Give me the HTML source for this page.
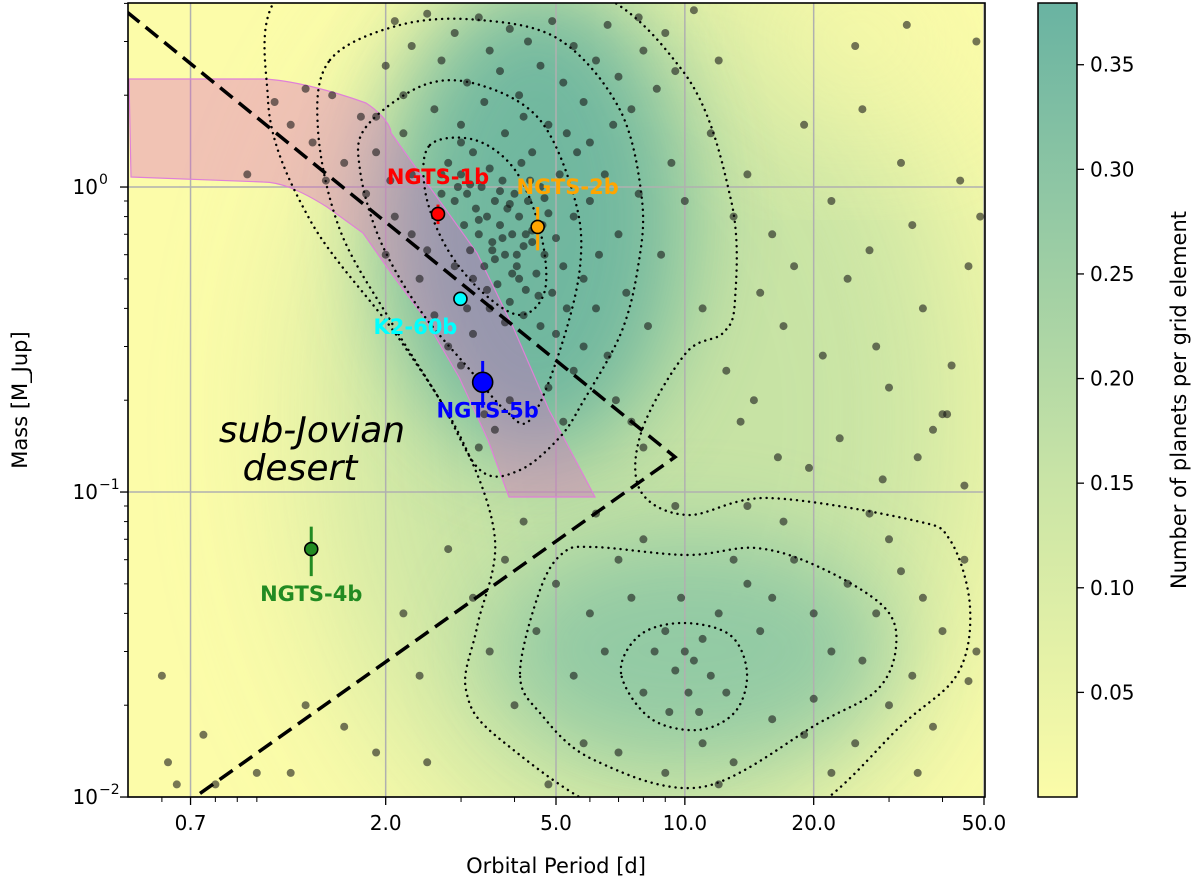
<!DOCTYPE html>
<html><head><meta charset="utf-8"><style>
html,body{margin:0;padding:0;background:#fff;}
svg{display:block;font-family:"DejaVu Sans","Liberation Sans",sans-serif;}
</style></head><body>
<svg id="chart" width="1200" height="888" viewBox="0 0 1200 888" xmlns="http://www.w3.org/2000/svg">
<defs>
<clipPath id="plotclip"><rect x="128" y="3" width="857" height="794"/></clipPath>
<filter id="blur40" x="-50%" y="-50%" width="200%" height="200%"><feGaussianBlur stdDeviation="45"/></filter>
<filter id="blur70" x="-50%" y="-50%" width="200%" height="200%"><feGaussianBlur stdDeviation="80"/></filter>
<linearGradient id="cbgrad" x1="0" y1="1" x2="0" y2="0">
<stop offset="0" stop-color="#fbfca8"/><stop offset="0.4" stop-color="#c9e4a6"/><stop offset="1" stop-color="#69b3a2"/>
</linearGradient>
</defs>
<g id="bg" clip-path="url(#plotclip)">
<rect x="128" y="3" width="857" height="794" fill="#fcfca9"/>
<ellipse cx="650" cy="420" rx="330" ry="460" fill="#c2e1a4" opacity="0.9" filter="url(#blur70)"/>
<ellipse cx="860" cy="40" rx="140" ry="90" fill="#fafaa8" opacity="0.8" filter="url(#blur70)"/>
<ellipse cx="535" cy="220" rx="150" ry="240" fill="#62b09f" opacity="0.85" filter="url(#blur40)"/>
<ellipse cx="690" cy="650" rx="200" ry="115" fill="#86c4a4" opacity="0.8" filter="url(#blur40)"/>
</g>
<g id="grid"></g>
<g id="band" clip-path="url(#plotclip)"></g>
<g id="contours" clip-path="url(#plotclip)"></g>
<g id="dots" clip-path="url(#plotclip)"></g>
<g id="dashed" clip-path="url(#plotclip)"></g>
<g id="planets"></g>
<rect x="128" y="3" width="857" height="794" fill="none" stroke="#000" stroke-width="1.6"/>
<g id="axes"></g>
<text x="312" y="442" font-size="36" font-style="italic" text-anchor="middle">sub-Jovian</text>
<text x="300" y="480" font-size="36" font-style="italic" text-anchor="middle">desert</text>
<text x="556" y="873" font-size="21" text-anchor="middle">Orbital Period [d]</text>
<text transform="translate(27,400) rotate(-90)" font-size="21" text-anchor="middle">Mass [M_Jup]</text>
<g id="colorbar"></g>
<text transform="translate(1186,400) rotate(-90)" font-size="21" text-anchor="middle">Number of planets per grid element</text>
</svg>
<script>
const NS="http://www.w3.org/2000/svg";
// ---- data ----
const xTickValues=[0.7,2.0,5.0,10.0,20.0,50.0];
const xTickLabels=["0.7","2.0","5.0","10.0","20.0","50.0"];
const yTickValues=[1,0.1,0.01];
const yTickExp=["0","\u22121","\u22122"];
const cbTickValues=[0.05,0.10,0.15,0.20,0.25,0.30,0.35];
const cbTickLabels=["0.05","0.10","0.15","0.20","0.25","0.30","0.35"];
const planetNames=["NGTS-1b","NGTS-2b","K2-60b","NGTS-5b","NGTS-4b"];
const planetPeriods=[2.65,4.53,2.99,3.37,1.34];
const planetMasses=[0.816,0.74,0.43,0.229,0.065];
const planetMassErrors=[0.06,0.12,0.02,0.04,0.012];
const planetColors=["#ff0000","#ffa500","#00ffff","#0000ff","#228b22"];
const starPeriods=[
2.1,2.3,2.5,2.7,2.9,3.1,3.3,3.5,3.7,3.9,4.1,4.3,4.6,4.9,5.2,5.5,5.8,6.2,6.6,7.0,7.5,8.0,8.6,2.2,2.6,3.0,3.4,3.8,4.2,4.8,5.3,6.0,6.8,2.0,1.9,7.8,9.0,9.5,
0.95,1.1,1.2,1.35,1.5,1.6,1.75,1.9,2.05,1.45,1.8,2.2,1.3,2.1,2.3,2.0,2.4,2.5,2.6,2.8,3.0,3.2,3.4,3.6,3.3,3.9,3.1,2.9,2.7,2.3,
2.8,2.9,3.0,3.05,3.1,3.15,3.2,3.25,3.3,3.35,3.4,3.45,3.5,3.55,3.6,3.65,3.7,3.75,3.8,3.85,3.9,3.95,4.0,4.05,4.1,4.15,4.2,4.25,4.3,4.4,4.5,4.6,4.7,4.8,4.9,5.0,5.1,5.2,5.3,5.5,3.2,3.5,3.8,4.2,4.6,5.0,5.6,6.0,6.3,6.5,3.0,2.7,4.4,5.8,
3.3,3.6,3.9,4.1,4.4,4.7,3.45,3.75,4.05,4.35,4.65,3.15,3.55,3.95,4.25,4.55,2.95,3.7,
5.5,5.8,6.2,6.6,7.0,7.3,7.8,8.2,8.8,9.3,6.9,7.5,4.8,5.2,8.0,
10.5,12,11.5,13,14,15,16,17,18,19,21,22,24,25,27,28,30,32,34,36,38,40,42,44,46,48,49,12.5,14.5,16.5,19.5,23,29,35,45,11,10,26,33,41,13.5,
10,10.5,9.5,11,9,10.2,11.5,8.5,12,9.8,8,10.8,9.2,12.5,
5,6,7,6.5,5.5,7.5,8,13,14,15,16,18,20,22,24,26,28,30,32,34,36,40,45,48,4.5,4,3.5,3.2,3.8,4.2,5.8,7,9,11,13,16,19,22,25,30,38,46,6.2,9.5,14,17,27,4.8,12,20,35,
0.62,0.65,0.8,1.0,1.2,0.6,1.3,1.6,1.9,2.5,2.2,2.8,2.4,0.75];
const starMasses=[
3.5,2.9,3.7,2.6,3.2,2.2,3.6,2.8,2.4,3.3,2.0,3.0,2.5,3.5,2.2,2.9,1.9,2.6,3.4,2.3,1.8,2.8,2.1,2.0,1.8,1.6,1.9,1.5,1.7,1.6,1.5,1.4,1.6,2.5,1.7,3.6,3.2,2.4,
1.1,1.9,1.6,1.4,2.0,1.2,1.7,1.3,1.05,1.05,0.95,1.5,2.1,0.8,0.7,0.6,0.5,0.62,0.38,0.3,0.26,0.33,0.18,0.16,0.14,0.2,0.4,0.55,0.95,1.1,
1.2,0.9,1.1,0.75,0.95,0.62,1.3,0.85,0.7,1.0,0.55,0.8,1.15,0.66,0.9,0.48,0.75,1.05,0.6,0.85,0.42,0.7,0.95,0.55,0.8,1.2,0.64,0.46,0.9,0.72,0.52,1.0,0.6,0.82,0.45,0.68,1.1,0.55,0.4,0.8,0.5,0.4,0.36,0.38,0.35,0.33,1.3,0.9,0.6,1.1,1.4,1.1,1.3,0.5,
0.78,0.58,0.88,0.5,0.66,0.92,0.46,0.68,0.6,1.05,0.75,1.02,0.62,0.52,0.7,0.44,1.0,0.97,
0.25,0.3,0.4,0.28,0.7,0.45,0.95,0.35,0.6,1.2,0.2,0.17,0.22,0.17,0.14,
3.8,2.6,1.5,0.8,1.1,0.45,0.7,0.35,0.55,1.6,0.28,0.9,0.5,2.9,0.62,0.3,0.22,1.2,0.75,0.4,0.16,0.18,0.26,1.05,0.55,3.0,0.8,0.25,0.2,0.13,0.12,0.15,0.11,0.13,0.105,0.4,0.9,1.8,3.4,0.18,0.17,
0.03,0.028,0.026,0.033,0.035,0.022,0.025,0.03,0.04,0.045,0.022,0.019,0.019,0.022,
0.05,0.04,0.06,0.03,0.025,0.045,0.07,0.06,0.05,0.035,0.045,0.06,0.04,0.03,0.05,0.028,0.04,0.07,0.055,0.025,0.045,0.035,0.06,0.03,0.035,0.02,0.03,0.045,0.06,0.08,0.015,0.014,0.012,0.015,0.013,0.018,0.016,0.012,0.015,0.02,0.017,0.024,0.085,0.09,0.09,0.08,0.085,0.011,0.011,0.021,0.012,
0.013,0.011,0.011,0.012,0.012,0.025,0.02,0.017,0.014,0.013,0.04,0.065,0.025,0.016];
// ---- axes ----
const X0=128,XPD=428,PMIN=0.5;
const Y0=3.4,YPD=305,MMAX=4;
function xs(p){return X0+XPD*Math.log10(p/PMIN);}
function ys(m){return Y0+YPD*Math.log10(MMAX/m);}
function el(tag,attrs,parent){const e=document.createElementNS(NS,tag);for(const k in attrs)e.setAttribute(k,attrs[k]);parent.appendChild(e);return e;}
function smooth(pts){let d="";const n=pts.length;for(let i=0;i<n;i++){const p0=pts[(i-1+n)%n],p1=pts[i],p2=pts[(i+1)%n],p3=pts[(i+2)%n];if(i===0)d+="M"+p1[0]+","+p1[1];const c1=[p1[0]+(p2[0]-p0[0])/6,p1[1]+(p2[1]-p0[1])/6],c2=[p2[0]-(p3[0]-p1[0])/6,p2[1]-(p3[1]-p1[1])/6];d+=" C"+c1[0].toFixed(1)+","+c1[1].toFixed(1)+" "+c2[0].toFixed(1)+","+c2[1].toFixed(1)+" "+p2[0]+","+p2[1];}return d+"Z";}
const grid=document.getElementById("grid"),axes=document.getElementById("axes");
xTickValues.forEach((v,i)=>{const x=xs(v);
 const g=el("line",{x1:x,x2:x,y1:3,y2:797,stroke:"#b0b0b0","stroke-width":1.5},grid);
 
 
 el("line",{x1:x,x2:x,y1:797,y2:805,stroke:"#000","stroke-width":1.3},axes);
 const t=el("text",{x:x,y:830,"font-size":20,"text-anchor":"middle"},axes);t.textContent=xTickLabels[i];
 
 
});
[0.6,0.8,0.9,1,3,4,6,7,8,9,30,40].forEach(v=>{const x=xs(v);el("line",{x1:x,x2:x,y1:797,y2:802,stroke:"#000","stroke-width":1},axes);});
yTickValues.forEach((v,i)=>{const y=ys(v);
 const g=el("line",{x1:128,x2:985,y1:y,y2:y,stroke:"#b0b0b0","stroke-width":1.5},grid);
 
 
 el("line",{x1:120,x2:128,y1:y,y2:y,stroke:"#000","stroke-width":1.3},axes);
 const t=el("text",{x:98,y:y+7,"font-size":20,"text-anchor":"end"},axes);t.textContent="10";
 
 
 const s=el("text",{x:99,y:y-3,"font-size":14,"text-anchor":"start"},axes);s.textContent=yTickExp[i];
});
[0.02,0.03,0.04,0.05,0.06,0.07,0.08,0.09,0.2,0.3,0.4,0.5,0.6,0.7,0.8,0.9,2,3,4].forEach(v=>{const y=ys(v);el("line",{x1:124,x2:128,y1:y,y2:y,stroke:"#000","stroke-width":1},axes);});
// ---- pink band ----
const band=el("path",{d:"M129,79 L263,79 C290,80 330,90 366,103 C380,112 391,125 391,133 L434,193 L477,253 L513,327 L549,410 L595,497 L509,497 L488,440 L459,377 L424,317 L391,273 L363,233 L327,207 C300,190 280,182 263,182 L131,177 Z",fill:"rgba(220,90,200,0.35)",stroke:"#e080d8","stroke-width":1.2},document.getElementById("band"));


// ---- contours ----
const contourSets=[
[[430,145],[475,140],[515,170],[540,230],[545,290],[520,315],[480,290],[445,245],[425,190]],
[[366,127],[424,85],[480,85],[540,120],[575,200],[580,267],[560,350],[530,420],[505,410],[470,370],[420,310],[380,240],[360,170]],
[[330,60],[400,25],[480,20],[560,40],[620,110],[642,200],[638,267],[621,333],[584,400],[560,437],[520,470],[480,470],[440,400],[390,320],[340,230],[318,130]],
[[300,-20],[560,-20],[682,70],[731,200],[735,300],[723,333],[686,353],[642,430],[640,490],[687,515],[768,498],[912,520],[950,540],[970,607],[958,673],[904,723],[790,820],[630,820],[501,740],[466,690],[477,627],[495,540],[462,440],[400,340],[310,220],[268,100]],
[[621,673],[640,635],[683,623],[730,635],[747,673],[735,712],[698,730],[650,718]],
[[520,673],[540,590],[563,553],[594,547],[687,555],[756,548],[819,567],[884,607],[896,647],[877,690],[819,723],[702,787],[594,760],[540,713]]
];
const cg=document.getElementById("contours");
contourSets.forEach(pts=>{const p=el("path",{d:smooth(pts),fill:"none",stroke:"#000","stroke-width":2.4,"stroke-dasharray":"0.1 6","stroke-linecap":"round"},cg);
 
 });
// ---- scatter ----
const dg=document.getElementById("dots");
starPeriods.forEach((p,i)=>{const c=el("circle",{cx:xs(p).toFixed(1),cy:ys(starMasses[i]).toFixed(1),r:4,fill:"rgba(20,20,20,0.58)"},dg);
 
 });
// ---- dashed boundary ----
const dl=el("polyline",{points:"127,12 675,457 195,797",fill:"none",stroke:"#000","stroke-width":3.5,"stroke-dasharray":"16 8"},document.getElementById("dashed"));


// ---- named planets ----
const pg=document.getElementById("planets");
const labelOffsets=[[0,-37],[30,-40],[-45,28],[5,28],[0,45]];
planetNames.forEach((n,i)=>{const x=xs(planetPeriods[i]),y=ys(planetMasses[i]);
 const m=planetMasses[i],e=planetMassErrors[i];
 el("line",{x1:x,x2:x,y1:ys(m+e),y2:ys(Math.max(m-e,1e-3)),stroke:planetColors[i],"stroke-width":3},pg);
 const c=el("circle",{cx:x,cy:y,r:i===3?10:6.5,fill:planetColors[i],stroke:"#000","stroke-width":1.6},pg);
 
 
 const t=el("text",{x:x+labelOffsets[i][0],y:y+labelOffsets[i][1]+7,"font-size":21,"font-weight":"bold",fill:planetColors[i],"text-anchor":"middle"},pg);t.textContent=n;
 
 
});
// ---- colorbar ----
const cb=document.getElementById("colorbar");
const CBT=3,CBB=797,CBMAX=0.3795,CBMIN=0.0;
function cy(v){return CBB-(v-CBMIN)/(CBMAX-CBMIN)*(CBB-CBT);}
el("rect",{x:1038,y:CBT,width:39,height:CBB-CBT,fill:"url(#cbgrad)",stroke:"#000","stroke-width":1.5},cb);
cbTickValues.forEach((v,i)=>{const y=cy(v);
 el("line",{x1:1077,x2:1084,y1:y,y2:y,stroke:"#000","stroke-width":1.3},cb);
 const t=el("text",{x:1090,y:y+7,"font-size":20},cb);t.textContent=cbTickLabels[i];
 
 
});
</script>
</body></html>
